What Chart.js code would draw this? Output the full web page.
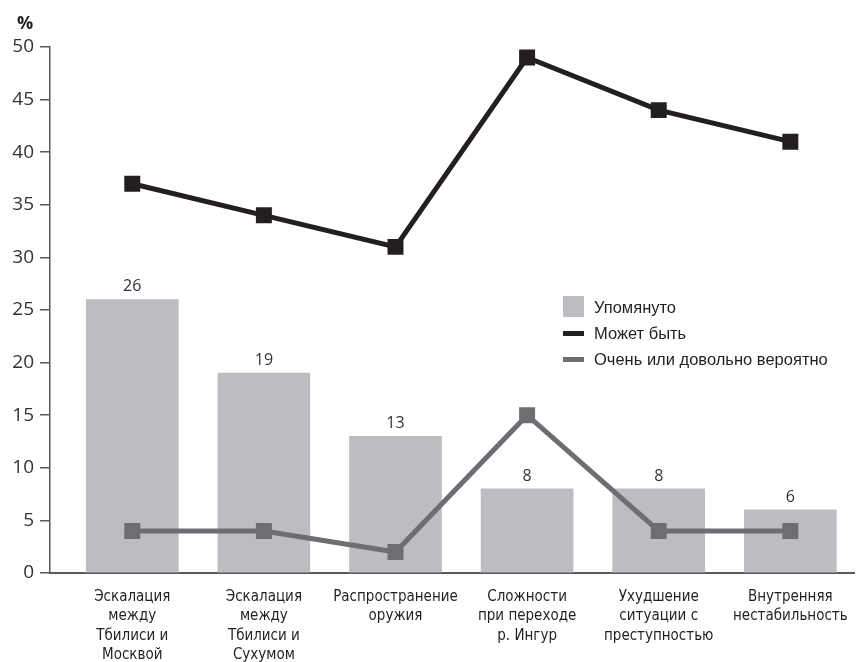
<!DOCTYPE html>
<html>
<head>
<meta charset="utf-8">
<script src="https://cdn.jsdelivr.net/npm/chart.js@4"></script>
<style>
  html, body { margin: 0; padding: 0; background: #fff; }
  #wrap { position: relative; width: 866px; height: 662px; }
  #c { position: absolute; left: 0; top: 0; }
  #pct { position: absolute; left: 17px; top: 10px; font: bold 18px "Open Sans", sans-serif; color: #231f20; }
  #legend { position: absolute; left: 563px; top: 296px; font: 16.5px "Liberation Sans", Arial, sans-serif; color: #231f20; }
  .li { position: relative; height: 26px; }
  .sw { position: absolute; left: 0; }
  .tx { position: absolute; left: 31px; top: 0; line-height: 22px; white-space: nowrap; }
</style>
</head>
<body>
<div id="wrap">
  <canvas id="c" width="866" height="662"></canvas>
  <div id="pct">%</div>
  <div id="legend"></div>
</div>
<script>
const categories = [
  ["Эскалация", "между", "Тбилиси и", "Москвой"],
  ["Эскалация", "между", "Тбилиси и", "Сухумом"],
  ["Распространение", "оружия"],
  ["Сложности", "при переходе", "р. Ингур"],
  ["Ухудшение", "ситуации с", "преступностью"],
  ["Внутренняя", "нестабильность"]
];
const seriesNames = ["Упомянуто", "Может быть", "Очень или довольно вероятно"];
const mentioned = [26, 19, 13, 8, 8, 6];
const maybe = [37, 34, 31, 49, 44, 41];
const likely = [4, 4, 2, 15, 4, 4];
const yTicks = [0, 5, 10, 15, 20, 25, 30, 35, 40, 45, 50];

const colors = ["#bcbdc0", "#231f20", "#6d6e71"];
const toXY = arr => arr.map((v, i) => ({ x: i, y: v }));

// HTML legend
const legend = document.getElementById('legend');
seriesNames.forEach((name, i) => {
  const li = document.createElement('div');
  li.className = 'li';
  const sw = document.createElement('div');
  sw.className = 'sw';
  if (i === 0) { sw.style.cssText = 'top:0;width:21px;height:21px;background:' + colors[0]; }
  else { sw.style.cssText = 'top:9px;width:21px;height:5px;background:' + colors[i]; }
  const tx = document.createElement('div');
  tx.className = 'tx';
  tx.textContent = name;
  li.appendChild(sw); li.appendChild(tx);
  legend.appendChild(li);
});

const barLabels = {
  id: 'barLabels',
  afterDatasetsDraw(chart) {
    const ctx = chart.ctx;
    const meta = chart.getDatasetMeta(0);
    ctx.save();
    ctx.font = '16px "Open Sans", sans-serif';
    ctx.fillStyle = '#333';
    ctx.textAlign = 'center';
    ctx.textBaseline = 'alphabetic';
    meta.data.forEach((el, i) => {
      ctx.fillText(String(mentioned[i]), el.x, el.y - 8);
    });
    ctx.restore();
  }
};

new Chart(document.getElementById('c'), {
  data: {
    datasets: [
      {
        type: 'bar', label: seriesNames[0], data: toXY(mentioned),
        backgroundColor: colors[0], barThickness: 92, order: 3
      },
      {
        type: 'line', label: seriesNames[1], data: toXY(maybe),
        borderColor: colors[1], backgroundColor: colors[1], borderWidth: 5,
        pointStyle: 'rect', pointRadius: 11.3, pointBorderWidth: 0,
        pointBackgroundColor: colors[1], tension: 0, order: 1
      },
      {
        type: 'line', label: seriesNames[2], data: toXY(likely),
        borderColor: colors[2], backgroundColor: colors[2], borderWidth: 5,
        pointStyle: 'rect', pointRadius: 11.3, pointBorderWidth: 0,
        pointBackgroundColor: colors[2], tension: 0, order: 2
      }
    ]
  },
  options: {
    responsive: false,
    animation: false,
    layout: { padding: { top: 47, right: 9, left: 0, bottom: 0 } },
    plugins: { legend: { display: false }, tooltip: { enabled: false } },
    scales: {
      x: {
        type: 'linear',
        offset: false,
        min: -0.625, max: 5.489,
        afterFit(s) { s.height = 89; },
        afterBuildTicks(s) { s.ticks = categories.map((c, i) => ({ value: i })); },
        grid: { display: false, offset: false },
        border: { display: true, color: '#58595b', width: 2 },
        ticks: {
          autoSkip: false, maxRotation: 0, padding: 6,
          color: '#231f20',
          font: { family: '"DejaVu Sans Condensed", "Liberation Sans Narrow", "Arial Narrow", sans-serif', size: 15, lineHeight: 1.3 },
          callback: v => categories[v]
        }
      },
      y: {
        min: 0, max: 50,
        afterFit(s) { s.width = 50; },
        afterBuildTicks(s) { s.ticks = yTicks.map(v => ({ value: v })); },
        grid: { display: true, drawOnChartArea: false, drawTicks: true, tickLength: 10, color: '#58595b', lineWidth: 1.5 },
        border: { display: true, color: '#58595b', width: 1.5 },
        ticks: {
          padding: 6, color: '#333',
          font: { family: '"Open Sans", sans-serif', size: 19 }
        }
      }
    }
  },
  plugins: [barLabels]
});
</script>
</body>
</html>
